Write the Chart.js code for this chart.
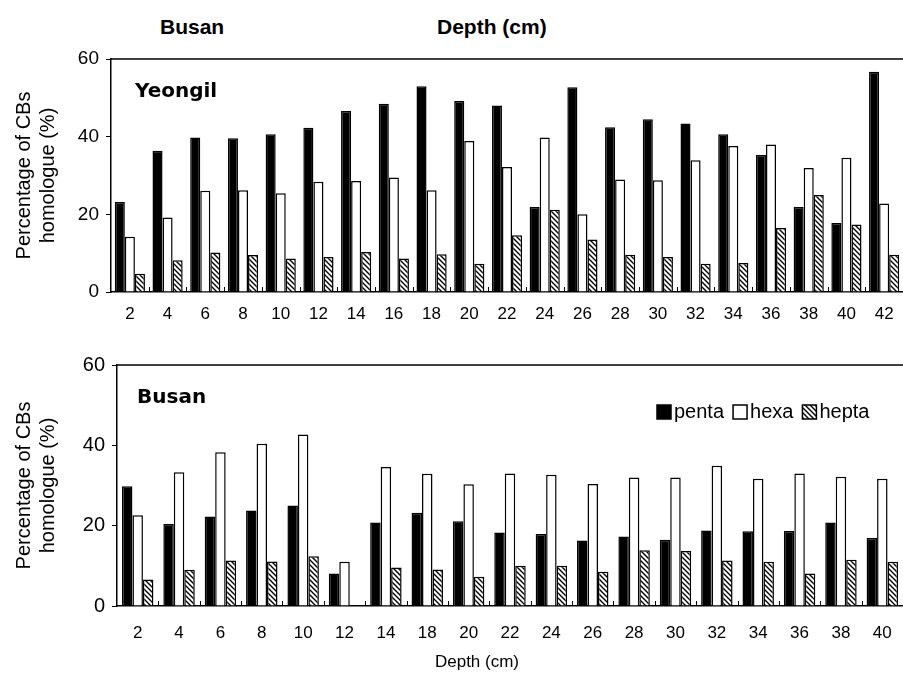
<!DOCTYPE html>
<html>
<head>
<meta charset="utf-8">
<script src="https://cdn.jsdelivr.net/npm/chart.js@4/dist/chart.umd.min.js"></script>
<style>
  html, body { margin: 0; padding: 0; background: #fff; }
  body { width: 903px; height: 673px; position: relative; overflow: hidden; font-family: "Liberation Sans", Arial, sans-serif; }
  .hdr { position: absolute; top: 15px; font-family: "Liberation Sans Narrow", "Liberation Sans", sans-serif; font-weight: bold; font-size: 21px; color: #000; }
  #top-wrap { position: absolute; left: 0; top: 0; width: 903px; height: 340px; }
  #bot-wrap { position: absolute; left: 0; top: 340px; width: 903px; height: 333px; }
</style>
</head>
<body>
<div class="hdr" style="left:160px">Busan</div>
<div class="hdr" style="left:437px">Depth (cm)</div>
<div id="top-wrap"><canvas id="top-canvas"></canvas></div>
<div id="bot-wrap"><canvas id="bot-canvas"></canvas></div>
<script>
// Yeongil (top panel)
const yeongilDepths = ['2','4','6','8','10','12','14','16','18','20','22','24','26','28','30','32','34','36','38','40','42'];
const yeongilPenta = [23.2, 36.4, 39.8, 39.6, 40.6, 42.3, 46.6, 48.5, 53.0, 49.2, 48.0, 21.9, 52.7, 42.4, 44.5, 43.4, 40.6, 35.3, 21.9, 17.8, 56.7];
const yeongilHexa  = [14.2, 19.2, 26.1, 26.2, 25.4, 28.4, 28.6, 29.5, 26.2, 38.9, 32.2, 39.8, 20.0, 29.0, 28.8, 33.9, 37.6, 38.0, 31.9, 34.6, 22.8];
const yeongilHepta = [4.7, 8.2, 10.2, 9.5, 8.6, 9.0, 10.3, 8.6, 9.7, 7.3, 14.6, 21.2, 13.5, 9.6, 9.0, 7.3, 7.5, 16.5, 25.0, 17.4, 9.6];

// Busan (bottom panel)
const busanDepths = ['2','4','6','8','10','12','14','18','20','22','24','26','28','30','32','34','36','38','40'];
const busanPenta = [29.8, 20.4, 22.3, 23.8, 25.0, 8.1, 20.8, 23.2, 21.1, 18.3, 17.9, 16.3, 17.3, 16.5, 18.8, 18.6, 18.7, 20.8, 16.9];
const busanHexa  = [22.6, 33.3, 38.3, 40.4, 42.7, 11.0, 34.6, 32.9, 30.3, 33.0, 32.7, 30.4, 32.0, 32.0, 34.9, 31.7, 33.0, 32.2, 31.7];
const busanHepta = [6.6, 9.0, 11.3, 11.1, 12.4, 0, 9.6, 9.1, 7.3, 10.0, 10.0, 8.5, 13.9, 13.7, 11.3, 11.0, 8.1, 11.5, 11.0];

const yTicks = [0, 20, 40, 60];
const seriesNames = ['penta', 'hexa', 'hepta'];

function makeHatch() {
  const c = document.createElement('canvas');
  c.width = 5; c.height = 5;
  const g = c.getContext('2d');
  g.fillStyle = '#fff';
  g.fillRect(0, 0, 5, 5);
  g.strokeStyle = '#000';
  g.lineWidth = 1.4;
  g.beginPath();
  g.moveTo(-1, -1); g.lineTo(6, 6);
  g.moveTo(-1, 4); g.lineTo(1, 6);
  g.moveTo(4, -1); g.lineTo(6, 1);
  g.stroke();
  return g.createPattern(c, 'repeat');
}
const hatch = makeHatch();

// frame top line + inward x tick marks + panel labels
const framePlugin = {
  id: 'frame',
  afterDraw(chart, args, opts) {
    const { ctx, chartArea: a, scales: { x } } = chart;
    ctx.save();
    ctx.strokeStyle = '#000';
    ctx.lineWidth = 1.5;
    ctx.beginPath();
    ctx.moveTo(a.left, a.top);
    ctx.lineTo(a.right, a.top);
    ctx.stroke();
    const n = x.getLabels().length;
    const half = (x.getPixelForValue(1) - x.getPixelForValue(0)) / 2;
    ctx.lineWidth = 1;
    ctx.beginPath();
    for (let i = 0; i < n; i++) {
      const px = Math.round(x.getPixelForValue(i) + half) + 0.5;
      ctx.moveTo(px, a.bottom);
      ctx.lineTo(px, a.bottom - 5);
    }
    ctx.stroke();
    ctx.fillStyle = '#000';
    ctx.font = 'bold 20px "DejaVu Sans", sans-serif';
    ctx.textBaseline = 'middle';
    ctx.fillText(opts.label, a.left + opts.lx, a.top + opts.ly);
    if (opts.xTitle) {
      ctx.font = '17px "Liberation Sans", sans-serif';
      ctx.textAlign = 'center';
      ctx.fillText(opts.xTitle, 477, chart.height - 11);
    }
    if (opts.legend) {
      ctx.font = '20px "Liberation Sans", sans-serif';
      ctx.textAlign = 'left';
      const cy = a.top + 47;
      const fills = ['#000', '#fff', hatch];
      let lx = 657;
      seriesNames.forEach((name, i) => {
        ctx.fillStyle = fills[i];
        ctx.fillRect(lx, cy - 7, 14, 14);
        ctx.strokeStyle = '#000';
        ctx.lineWidth = 1.5;
        ctx.strokeRect(lx, cy - 7, 14, 14);
        ctx.fillStyle = '#000';
        ctx.fillText(name, lx + 17, cy);
        lx += 17 + ctx.measureText(name).width + 9;
      });
    }
    ctx.restore();
  }
};

function buildChart(id, labels, penta, hexa, hepta, cfg) {
  const common = { borderColor: '#000', borderWidth: 1.5, barPercentage: 1.0, categoryPercentage: cfg.catPct };
  return new Chart(document.getElementById(id), {
    type: 'bar',
    data: {
      labels,
      datasets: [
        { label: seriesNames[0], data: penta, backgroundColor: '#000', ...common },
        { label: seriesNames[1], data: hexa, backgroundColor: '#fff', ...common },
        { label: seriesNames[2], data: hepta, backgroundColor: hatch, ...common }
      ]
    },
    options: {
      responsive: true,
      maintainAspectRatio: false,
      animation: false,
      layout: { padding: { top: cfg.top, right: 0, left: 0, bottom: 0 } },
      plugins: {
        legend: { display: false },
        tooltip: { enabled: false },
        frame: { label: cfg.label, lx: cfg.lx, ly: cfg.ly, legend: cfg.legend, xTitle: cfg.xTitle }
      },
      scales: {
        x: {
          grid: { display: false },
          border: { display: true, color: '#000', width: 1.5 },
          ticks: { color: '#000', font: { family: 'Liberation Sans', size: 17 }, padding: cfg.xPad, maxRotation: 0, autoSkip: false },
          afterFit: s => { s.height = cfg.xH; }
        },
        y: {
          min: 0, max: 60,
          afterBuildTicks: s => { s.ticks = yTicks.map(v => ({ value: v })); },
          grid: { drawOnChartArea: false, drawTicks: true, tickLength: 5, color: '#000' },
          border: { display: true, color: '#000', width: 1.5 },
          ticks: { color: '#000', font: { family: 'Liberation Sans', size: cfg.yFont }, padding: 7 },
          title: {
            display: true,
            text: ['Percentage of CBs', 'homologue (%)'],
            color: '#000',
            font: { family: 'Liberation Sans', size: 20 },
            padding: { top: 12, bottom: 0 }
          },
          afterFit: s => { s.width = cfg.yW; }
        }
      }
    },
    plugins: [framePlugin]
  });
}

buildChart('top-canvas', yeongilDepths, yeongilPenta, yeongilHexa, yeongilHepta,
  { top: 59, xH: 48, yW: 111, catPct: 0.8, xPad: 4, yFont: 19, label: 'Yeongil', lx: 24, ly: 33 });
buildChart('bot-canvas', busanDepths, busanPenta, busanHexa, busanHepta,
  { top: 25, xH: 67, yW: 117, catPct: 0.76, xPad: 9, yFont: 20, label: 'Busan', lx: 20, ly: 33, legend: true, xTitle: 'Depth (cm)' });
</script>
</body>
</html>
